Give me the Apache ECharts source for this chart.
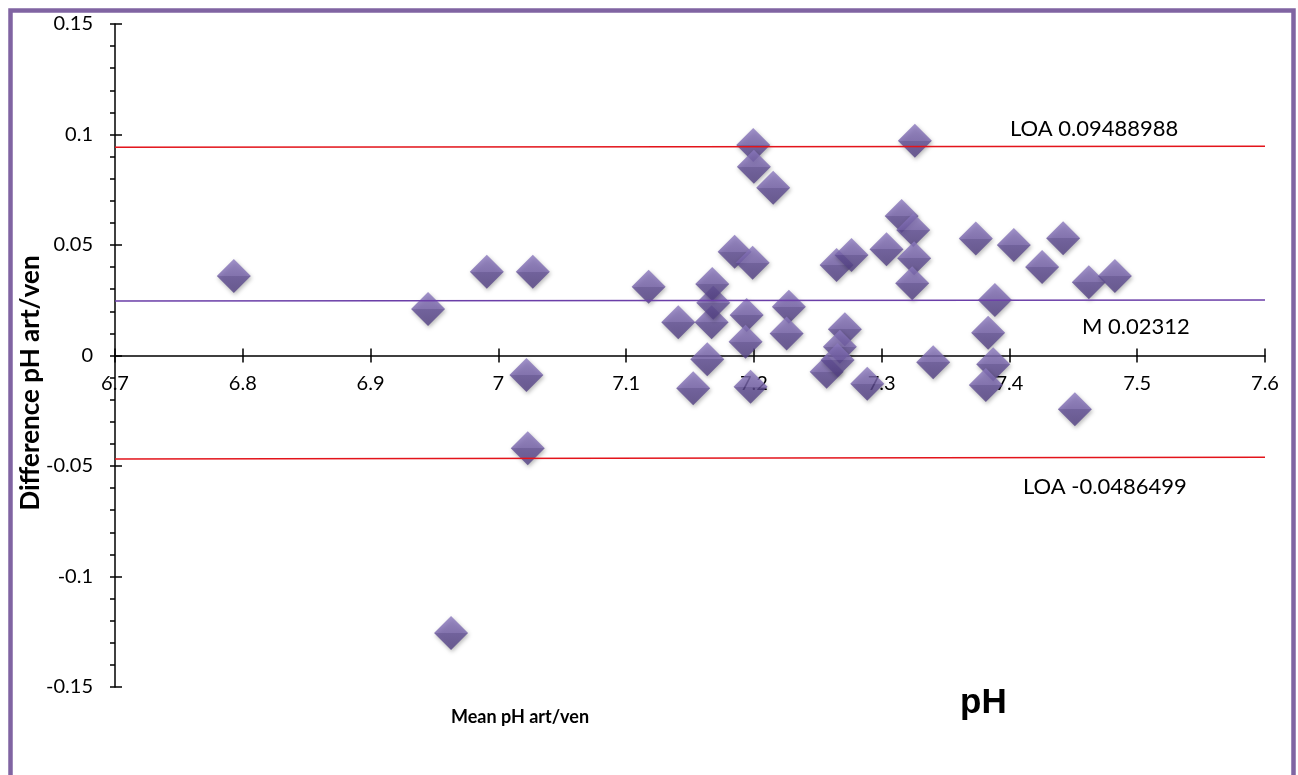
<!DOCTYPE html>
<html>
<head>
<meta charset="utf-8">
<script src="https://cdn.jsdelivr.net/npm/echarts@6/dist/echarts.min.js"></script>
<style>
html,body{margin:0;padding:0;background:#fff;}
#chart{width:1298px;height:775px;}
</style>
</head>
<body>
<div id="chart"></div>
<script>
// Mean pH art/ven (x) and difference pH art/ven (y)
const meanPH = [6.793, 6.945, 6.991, 7.027, 7.022, 7.023, 6.963,
  7.1176, 7.1408, 7.1525, 7.1635, 7.1669, 7.1682, 7.1674, 7.1849, 7.199, 7.1943, 7.1935, 7.1974,
  7.1995, 7.200, 7.2151, 7.2274, 7.2256, 7.2569, 7.2647, 7.2764, 7.2712, 7.2673, 7.2655, 7.2887,
  7.3038, 7.3156, 7.3247, 7.3254, 7.3239, 7.326, 7.3403, 7.3737, 7.3886, 7.3833, 7.3873, 7.3815,
  7.4034, 7.4256, 7.442, 7.4512, 7.4621, 7.4825];
const diffPH = [0.0360, 0.0210, 0.0379, 0.0379, -0.0088, -0.0420, -0.1256,
  0.0311, 0.0150, -0.0148, -0.0017, 0.0150, 0.0239, 0.0324, 0.0470, 0.0420, 0.0183, 0.0062, -0.0141,
  0.0952, 0.0854, 0.0759, 0.0221, 0.0100, -0.0073, 0.0410, 0.0455, 0.0119, 0.0040, -0.0020, -0.0128,
  0.0481, 0.0631, 0.0568, 0.0440, 0.0327, 0.0972, -0.0031, 0.0529, 0.0251, 0.0103, -0.0040, -0.0133,
  0.0500, 0.0400, 0.0530, -0.0243, 0.0331, 0.0360];

// reference lines (as drawn, end points at x = 6.7 and 7.6)
const lineX = [6.7, 7.6];
const upperLOA = [0.0942, 0.0947];
const meanLine = [0.0247, 0.0251];
const lowerLOA = [-0.0468, -0.0460];

const labelUpper = 'LOA 0.09488988';
const labelMean = 'M 0.02312';
const labelLower = 'LOA -0.0486499';
const xTitle = 'Mean pH art/ven';
const yTitle = 'Difference pH art/ven';
const panelTitle = 'pH';

const xMin = 6.7, xMax = 7.6, xStep = 0.1;
const yMin = -0.15, yMax = 0.15, yStep = 0.05;

const points = meanPH.map((x, i) => [x, diffPH[i]]);
const mk = arr => lineX.map((x, i) => [x, arr[i]]);

const gridTop = 24, gridBottom = 88, H = 775;
const gridH = H - gridTop - gridBottom;
// x axis crosses at y = 0; labels follow it
const zeroOffset = -(gridH * (0 - yMin) / (yMax - yMin));

const chart = echarts.init(document.getElementById('chart'), null, {renderer: 'canvas'});

const diamondColor = new echarts.graphic.LinearGradient(0, 0, 0, 1, [
  {offset: 0, color: '#8c7abf'},
  {offset: 0.5, color: '#7662ab'},
  {offset: 0.5, color: '#604d95'},
  {offset: 1, color: '#524082'}
]);

const baseFont = 'Lato';

chart.setOption({
  backgroundColor: '#ffffff',
  animation: false,
  grid: {left: 115, right: 33, top: gridTop, bottom: gridBottom, containLabel: false},
  xAxis: [{
    type: 'value', min: xMin, max: xMax, interval: xStep, position: 'bottom', offset: zeroOffset,
    axisLine: {onZero: false, lineStyle: {color: '#000', width: 1.5}},
    axisTick: {show: true, inside: false, length: 7, lineStyle: {color: '#000', width: 1.5}},
    axisLabel: {color: '#000', fontFamily: baseFont, fontSize: 20, margin: 18,
      formatter: v => String(Math.round(v * 10) / 10)},
    splitLine: {show: false}
  }, {
    type: 'value', min: xMin, max: xMax, interval: xStep, position: 'bottom', offset: zeroOffset,
    axisLine: {show: false, onZero: false},
    axisTick: {show: true, inside: true, length: 7, lineStyle: {color: '#000', width: 1.5}},
    axisLabel: {show: false},
    splitLine: {show: false}
  }],
  yAxis: [{
    type: 'value', min: yMin, max: yMax, interval: yStep,
    axisLine: {show: true, onZero: false, lineStyle: {color: '#000', width: 1.5}},
    axisTick: {show: true, inside: false, length: 5, lineStyle: {color: '#000', width: 1.5}},
    minorTick: {show: true, splitNumber: 5, length: 5, lineStyle: {color: '#000', width: 1.5}},
    axisLabel: {color: '#000', fontFamily: baseFont, fontSize: 20, margin: 22,
      formatter: v => String(Math.round(v * 100) / 100)},
    splitLine: {show: false}
  }, {
    type: 'value', min: yMin, max: yMax, interval: yStep, position: 'left',
    axisLine: {show: false, onZero: false},
    axisTick: {show: true, inside: true, length: 7, lineStyle: {color: '#000', width: 1.5}},
    axisLabel: {show: false},
    splitLine: {show: false}
  }],
  series: [{
    type: 'scatter',
    data: points,
    symbol: 'diamond',
    symbolSize: [34, 34],
    z: 2,
    itemStyle: {
      color: diamondColor,
      shadowBlur: 4, shadowColor: 'rgba(0,0,0,0.35)', shadowOffsetX: 1, shadowOffsetY: 2
    }
  }, {
    type: 'line', data: mk(upperLOA), symbol: 'none', z: 3,
    lineStyle: {color: '#e3141b', width: 1.5}
  }, {
    type: 'line', data: mk(meanLine), symbol: 'none', z: 3,
    lineStyle: {color: '#6b3fa8', width: 1.5}
  }, {
    type: 'line', data: mk(lowerLOA), symbol: 'none', z: 3,
    lineStyle: {color: '#e3141b', width: 1.5}
  }],
  graphic: [
    {type: 'rect', shape: {x: 10.5, y: 10.5, width: 1283, height: 820},
      style: {fill: 'none', stroke: '#8064a2', lineWidth: 4.5}, z: 10, silent: true},
    {type: 'text', x: 1010, y: 129, style: {text: labelUpper, font: '22px Lato', fill: '#000',
      align: 'left', verticalAlign: 'middle'}},
    {type: 'text', x: 1082, y: 327, style: {text: labelMean, font: '22px Lato', fill: '#000',
      align: 'left', verticalAlign: 'middle'}},
    {type: 'text', x: 1023, y: 487, style: {text: labelLower, font: '22px Lato', fill: '#000',
      align: 'left', verticalAlign: 'middle'}},
    {type: 'text', x: 960, y: 686, style: {text: panelTitle, font: 'bold 35px "Liberation Sans"', fill: '#000',
      align: 'left', verticalAlign: 'alphabetic'}},
    {type: 'text', x: 520, y: 717, style: {text: xTitle, font: 'bold 18px Lato', fill: '#000',
      align: 'center', verticalAlign: 'middle'}},
    {type: 'text', x: 31, y: 383, rotation: Math.PI / 2, style: {text: yTitle, font: 'bold 26px Lato', fill: '#000',
      align: 'center', verticalAlign: 'middle'}}
  ]
});
</script>
</body>
</html>
